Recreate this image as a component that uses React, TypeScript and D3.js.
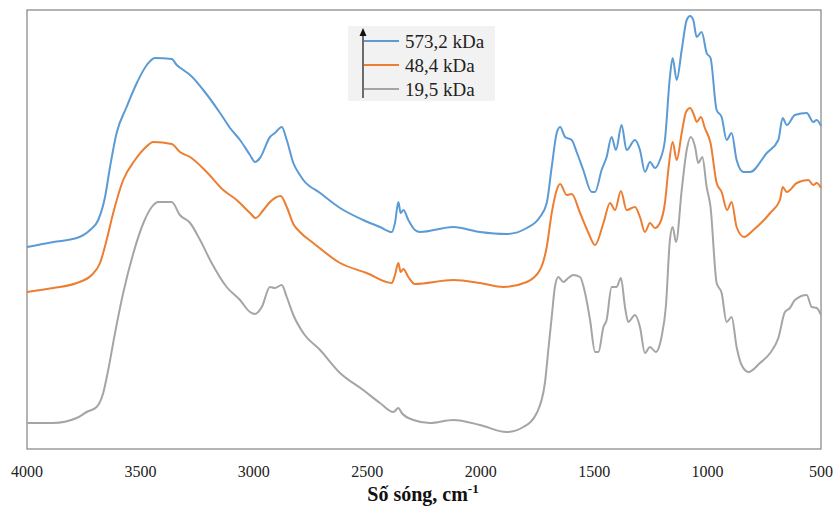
import React from 'react';
import * as d3 from 'd3';

// wavenumber (cm-1) and transmittance in arbitrary units
const blue: [number, number][] = [
  [4000, 202], [3884, 207], [3781, 211], [3722, 219], [3686, 229], [3656, 252], [3634, 282],
  [3605, 316], [3561, 342], [3516, 366], [3472, 384], [3436, 391], [3362, 390], [3340, 384],
  [3311, 379], [3281, 374], [3223, 359], [3149, 336], [3105, 321], [3061, 309], [3017, 294],
  [2995, 287], [2973, 291], [2929, 312], [2907, 316], [2877, 322], [2855, 309], [2826, 286],
  [2797, 274], [2782, 269], [2708, 256], [2620, 241], [2518, 229], [2444, 222], [2392, 217],
  [2378, 226], [2363, 247], [2353, 236], [2341, 239], [2319, 229], [2290, 219], [2268, 217],
  [2121, 222], [2003, 217], [1886, 215], [1797, 221], [1739, 232], [1709, 246], [1687, 282],
  [1665, 316], [1650, 322], [1628, 312], [1599, 309], [1577, 297], [1548, 279], [1511, 257],
  [1496, 257], [1467, 279], [1445, 292], [1423, 312], [1404, 299], [1379, 324], [1357, 299],
  [1320, 309], [1298, 299], [1276, 277], [1254, 287], [1232, 281], [1210, 289], [1188, 309],
  [1166, 372], [1154, 391], [1136, 369], [1114, 399], [1092, 429], [1077, 433], [1063, 429],
  [1048, 412], [1026, 417], [1004, 396], [987, 391], [960, 339], [938, 332], [916, 309],
  [894, 316], [872, 289], [842, 277], [813, 277], [739, 296], [688, 309], [669, 331],
  [651, 324], [615, 334], [563, 336], [534, 327], [519, 329], [500, 323],
];

const orange: [number, number][] = [
  [4000, 157], [3884, 161], [3781, 166], [3715, 174], [3678, 186], [3649, 209], [3620, 236],
  [3576, 269], [3524, 289], [3480, 301], [3443, 307], [3362, 305], [3326, 297], [3281, 292],
  [3208, 277], [3135, 259], [3076, 249], [3017, 236], [2992, 231], [2958, 239], [2929, 247],
  [2882, 253], [2855, 242], [2826, 225], [2797, 217], [2738, 206], [2620, 186], [2503, 176],
  [2392, 166], [2378, 174], [2363, 186], [2353, 177], [2341, 180], [2319, 172], [2290, 165],
  [2121, 169], [2003, 166], [1900, 162], [1797, 167], [1739, 179], [1709, 202], [1687, 236],
  [1665, 259], [1650, 265], [1621, 254], [1599, 255], [1562, 236], [1525, 216], [1496, 204],
  [1459, 226], [1430, 246], [1408, 239], [1382, 258], [1357, 239], [1320, 242], [1298, 232],
  [1276, 217], [1254, 226], [1232, 221], [1210, 226], [1188, 246], [1173, 279], [1154, 307],
  [1136, 289], [1114, 316], [1095, 337], [1077, 341], [1060, 334], [1048, 327], [1029, 332],
  [1012, 321], [987, 306], [960, 266], [938, 257], [914, 239], [894, 247], [872, 222],
  [839, 212], [798, 219], [724, 236], [681, 249], [669, 262], [651, 257], [607, 266],
  [556, 269], [534, 264], [519, 266], [500, 261],
];

const gray: [number, number][] = [
  [4000, 26], [3884, 26], [3781, 31], [3737, 37], [3693, 42], [3664, 56], [3642, 79],
  [3612, 116], [3576, 156], [3531, 196], [3487, 226], [3450, 242], [3421, 247], [3362, 247],
  [3326, 234], [3281, 226], [3237, 209], [3186, 186], [3120, 162], [3061, 149], [3017, 137],
  [2995, 135], [2965, 142], [2929, 162], [2907, 161], [2877, 164], [2855, 152], [2826, 134],
  [2782, 116], [2708, 99], [2620, 76], [2518, 59], [2444, 46], [2385, 37], [2363, 41],
  [2348, 36], [2297, 29], [2224, 26], [2121, 29], [2003, 24], [1886, 17], [1812, 22],
  [1753, 36], [1717, 66], [1702, 99], [1687, 132], [1673, 162], [1658, 172], [1636, 167],
  [1614, 171], [1592, 174], [1562, 172], [1540, 156], [1518, 129], [1496, 97], [1481, 97],
  [1459, 122], [1445, 129], [1423, 162], [1401, 162], [1382, 171], [1364, 142], [1350, 127],
  [1320, 134], [1298, 122], [1276, 96], [1254, 102], [1228, 97], [1203, 112], [1184, 142],
  [1166, 209], [1154, 222], [1139, 207], [1114, 259], [1092, 299], [1074, 312], [1055, 302],
  [1041, 286], [1023, 292], [1004, 262], [987, 242], [960, 166], [938, 156], [916, 127],
  [894, 132], [872, 102], [850, 84], [820, 77], [769, 86], [724, 96], [688, 111], [659, 137],
  [637, 141], [615, 149], [563, 154], [541, 142], [519, 141], [500, 134],
];

const series = [
  { name: '573,2 kDa', color: '#5b9bd5', data: blue },
  { name: '48,4 kDa', color: '#ed7d31', data: orange },
  { name: '19,5 kDa', color: '#a5a5a5', data: gray },
];

const xTicks = [4000, 3500, 3000, 2500, 2000, 1500, 1000, 500];

const W = 838;
const H = 510;
const plot = { left: 27, right: 821, top: 10, bottom: 449 };
const serif = '"Liberation Serif", "Times New Roman", serif';

export default function App() {
  const x = d3.scaleLinear().domain([4000, 500]).range([plot.left, plot.right]);
  const y = d3.scaleLinear().domain([0, 439]).range([plot.bottom, plot.top]);

  const line = d3
    .line<[number, number]>()
    .x(d => x(d[0]))
    .y(d => y(d[1]))
    .curve(d3.curveMonotoneX);

  // legend rows
  const legX = 348;
  const legY = 26;
  const rowY = [41, 65, 89];

  return (
    <div style={{ position: 'absolute', left: 0, top: 0 }}>
      <svg width={W} height={H} style={{ display: 'block', background: 'white' }}>
        <rect
          x={plot.left}
          y={plot.top}
          width={plot.right - plot.left}
          height={plot.bottom - plot.top}
          fill="none"
          stroke="#8c8c8c"
          strokeWidth={1.3}
        />

        {series.map(s => (
          <path key={s.name} d={line(s.data) || ''} fill="none" stroke={s.color} strokeWidth={2} strokeLinejoin="round" />
        ))}

        {xTicks.map(t => (
          <text key={t} x={x(t)} y={477} textAnchor="middle" fontFamily={serif} fontSize={16} fill="#222">
            {t}
          </text>
        ))}

        <text x={423} y={501} textAnchor="middle" fontFamily={serif} fontSize={20} fontWeight="bold" fill="#111">
          Số sóng, cm
          <tspan fontSize={13} dy={-8}>-1</tspan>
        </text>

        {/* legend */}
        <rect x={legX} y={legY} width={147} height={75} fill="#f2f2f2" />
        <line x1={363} x2={363} y1={98} y2={35} stroke="#111" strokeWidth={1.2} />
        <path d="M363,28 L359.5,36 L366.5,36 Z" fill="#111" />
        {series.map((s, i) => (
          <g key={s.name}>
            <line x1={364} x2={399} y1={rowY[i]} y2={rowY[i]} stroke={s.color} strokeWidth={2} />
            <text x={405} y={rowY[i] + 6.5} fontFamily={serif} fontSize={19} fill="#222">
              {s.name}
            </text>
          </g>
        ))}
      </svg>
    </div>
  );
}
